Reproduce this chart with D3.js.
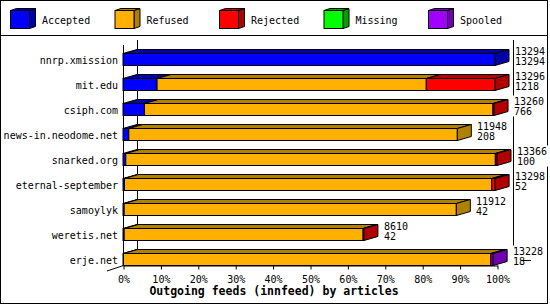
<!DOCTYPE html>
<html>
  <head>
    <meta charset="utf-8" />
    <script src="https://d3js.org/d3.v7.min.js"></script>
    <title>Outgoing feeds</title>
    <style>
        body { margin: 0; background: #fff; }
        text { font-family: "DejaVu Sans Mono", monospace; font-size: 10px; fill: #000; }
        .title { font-weight: bold; font-size: 11.5px; }
    </style>
  </head>
  <body>
    <svg id="chart" width="550" height="305"></svg>

    <script>
    // data
    var feeds = ["nnrp.xmission", "mit.edu", "csiph.com", "news-in.neodome.net",
        "snarked.org", "eternal-september", "samoylyk", "weretis.net", "erje.net"];
    var totals   = [13294, 13296, 13260, 11948, 13366, 13298, 11912, 8610, 13228];
    var accepted = [13294, 1218, 766, 208, 100, 52, 42, 42, 18];
    var refused  = [0, 9620, 12454, 11740, 13206, 13126, 11870, 8538, 13130];
    var rejected = [0, 2458, 40, 0, 60, 120, 0, 30, 0];
    var missing  = [0, 0, 0, 0, 0, 0, 0, 0, 0];
    var spooled  = [0, 0, 0, 0, 0, 0, 0, 0, 80];

    var seriesNames = ["Accepted", "Refused", "Rejected", "Missing", "Spooled"];
    var seriesData = [accepted, refused, rejected, missing, spooled];
    var fronts = ["#0000ff", "#ffb000", "#ff0000", "#00ff00", "#a000ff"];
    var darks  = ["#0000a8", "#b08000", "#b00000", "#00a000", "#7000b0"];
    var pctTicks = [0, 10, 20, 30, 40, 50, 60, 70, 80, 90, 100];
    var title = "Outgoing feeds (innfeed) by articles";

    var svg = d3.select("#chart");
    var dx = 14, dy = 4, barH = 12;
    var maxTotal = d3.max(totals);

    // frame
    svg.append("rect").attr("x", 0.5).attr("y", 0.5).attr("width", 547).attr("height", 303)
        .attr("fill", "#fff").attr("stroke", "#000");
    svg.append("line").attr("x1", 0).attr("x2", 548).attr("y1", 35.5).attr("y2", 35.5)
        .attr("stroke", "#000");

    // legend
    var leg = svg.selectAll(".leg").data(seriesNames).enter().append("g")
        .attr("transform", function(d, i){ return "translate(" + (10 + i * 104.5) + ",10)"; });
    leg.append("path")
        .attr("d", "M19.5,0.5 L25.5,-1.5 L25.5,16.5 L19.5,18.5 Z")
        .attr("fill", function(d, i){ return darks[i]; }).attr("stroke", "#000");
    leg.append("path")
        .attr("d", "M0.5,0.5 L6.5,-1.5 L25.5,-1.5 L19.5,0.5 Z")
        .attr("fill", function(d, i){ return darks[i]; }).attr("stroke", "#000");
    leg.append("rect").attr("x", 0.5).attr("y", 0.5).attr("width", 19).attr("height", 18)
        .attr("fill", function(d, i){ return fronts[i]; }).attr("stroke", "#000");
    leg.append("text").attr("x", 32).attr("y", 13.5).text(function(d){ return d; });

    // scales
    var x = d3.scaleLinear().domain([0, 100]).range([123, 497]);
    var y = d3.scaleBand().domain(feeds).range([45, 270]);
    function pct(v){ return v / maxTotal * 100; }

    // back wall lines
    svg.append("line").attr("x1", 137.5).attr("x2", 137.5).attr("y1", 40).attr("y2", 261).attr("stroke", "#000");
    svg.append("line").attr("x1", 513.5).attr("x2", 513.5).attr("y1", 40).attr("y2", 261).attr("stroke", "#000");
    svg.append("line").attr("x1", 123.5).attr("x2", 123.5).attr("y1", 45).attr("y2", 265).attr("stroke", "#000");
    svg.append("line").attr("x1", 107).attr("x2", 123.5).attr("y1", 271).attr("y2", 265.5).attr("stroke", "#000");

    // axis
    var axis = d3.axisBottom(x).tickValues(pctTicks).tickSize(4).tickSizeOuter(0)
        .tickFormat(function(d){ return d + "%"; });
    var ax = svg.append("g").attr("transform", "translate(0.5,265.5)").call(axis);
    ax.selectAll("text").attr("dy", null).attr("y", 17).style("font-family", "DejaVu Sans Mono").style("font-size", "10px");
    ax.selectAll("line, path").attr("stroke", "#000");

    // bars
    feeds.forEach(function(name, r){
        var y0 = y(name) + 8.5;
        var g = svg.append("g");
        var cum = 0, segs = [];
        seriesData.forEach(function(arr, s){
            var v = arr[r];
            if (v > 0) {
                segs.push({ s: s, x0: x(pct(cum)), x1: x(pct(cum + v)) });
            }
            cum += v;
        });
        segs.forEach(function(sg){
            g.append("path")
                .attr("d", "M" + sg.x0 + "," + y0 + " L" + (sg.x0 + dx) + "," + (y0 - dy) +
                    " L" + (sg.x1 + dx) + "," + (y0 - dy) + " L" + sg.x1 + "," + y0 + " Z")
                .attr("fill", darks[sg.s]).attr("stroke", "#000");
        });
        segs.forEach(function(sg){
            g.append("rect").attr("x", sg.x0).attr("y", y0).attr("width", sg.x1 - sg.x0).attr("height", barH)
                .attr("fill", fronts[sg.s]).attr("stroke", "#000");
        });
        var last = segs[segs.length - 1];
        g.append("path")
            .attr("d", "M" + last.x1 + "," + y0 + " L" + (last.x1 + dx) + "," + (y0 - dy) +
                " L" + (last.x1 + dx) + "," + (y0 + barH - dy) + " L" + last.x1 + "," + (y0 + barH) + " Z")
            .attr("fill", darks[last.s]).attr("stroke", "#000");

        // category label
        svg.append("text").attr("x", 118).attr("y", y0 + 10).attr("text-anchor", "end").text(name);

        // value labels with white box
        var lx = Math.round(x(pct(totals[r]))) + 20;
        var w = Math.max(String(totals[r]).length, String(accepted[r]).length) * 6;
        svg.append("rect").attr("x", lx - 1).attr("y", y0 - 8).attr("width", w + 2).attr("height", 21).attr("fill", "#fff");
        svg.append("text").attr("x", lx).attr("y", y0 + 1.5).text(totals[r]);
        svg.append("text").attr("x", lx).attr("y", y0 + 11).text(accepted[r]);
    });

    svg.append("line").attr("x1", 523).attr("x2", 531).attr("y1", 260.5).attr("y2", 260.5).attr("stroke", "#000");

    svg.append("text").attr("class", "title").attr("x", 274).attr("y", 295)
        .attr("text-anchor", "middle").text(title);
    </script>
  </body>
</html>
